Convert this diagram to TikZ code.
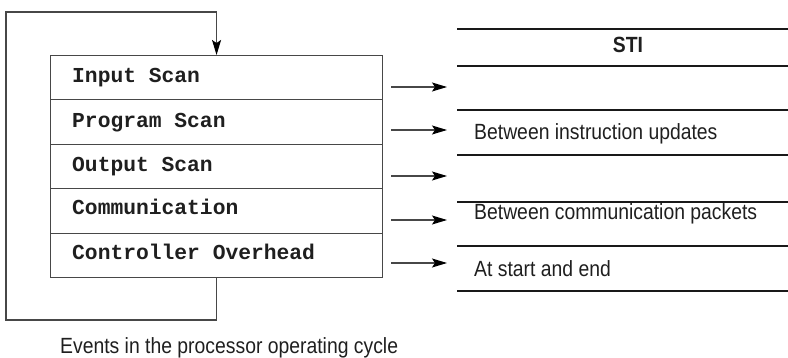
\documentclass[tikz,border=0pt]{standalone}
\usepackage{fontspec}
\usetikzlibrary{arrows.meta}
\newfontfamily\monofam{Liberation Mono}
\newfontfamily\condfam{Liberation Sans}[FakeStretch=0.88]
\begin{document}
\begin{tikzpicture}[x=1pt,y=-1pt,
  thinline/.style={draw=black!72,line width=1.1pt},
  rowbox/.style={thinline,minimum width=332pt,minimum height=44.4pt,inner sep=0pt,anchor=north west},
  monotext/.style={anchor=base west,inner sep=0pt,text=black!88,font=\monofam\bfseries\fontsize{21.3}{24}\selectfont},
  condtext/.style={anchor=base west,inner sep=0pt,text=black!88,font=\condfam\fontsize{22}{24}\selectfont},
  tableline/.style={draw=black!90,line width=2pt},
  tip/.style={-{Stealth[length=15pt,width=9pt,inset=3pt,color=black,fill=black]}},
  arr/.style={thinline,tip}
]
\useasboundingbox (0,0) rectangle (788,358);
% left box rows
\node[rowbox] (r1) at (50,55) {};
\node[rowbox] (r2) at (50,99.4) {};
\node[rowbox] (r3) at (50,143.8) {};
\node[rowbox] (r4) at (50,188.2) {};
\node[rowbox] (r5) at (50,232.6) {};
\node[monotext] (t1) at (72,83) {Input Scan};
\node[monotext] (t2) at (72,128) {Program Scan};
\node[monotext] (t3) at (72,172) {Output Scan};
\node[monotext] (t4) at (72,215) {Communication};
\node[monotext] (t5) at (72,260) {Controller Overhead};
% loop
\coordinate (lb) at (6,320);
\coordinate (lt) at (6,12);
\draw[arr] (r5.south) |- (lb) -- (lt) -| (r1.north);
% arrows
\foreach \i/\y in {1/87,2/130,3/176,4/220,5/263}{
  \coordinate (s\i) at (391,\y);
  \coordinate (e\i) at (447,\y);
  \draw[arr] (s\i) -- (e\i);
}
% table
\foreach \y in {29,66,110.5,155.5,202,246.5,291.5}{
  \draw[tableline] (457,\y) -- (788,\y);
}
\node[condtext,anchor=base,font=\condfam\bfseries\fontsize{22}{24}\selectfont] (sti) at (628,53) {STI};
\node[condtext] (c2) at (474,140) {Between instruction updates};
\node[condtext] (c4) at (474,220) {Between communication packets};
\node[condtext] (c5) at (474,277) {At start and end};
\node[condtext] (cap) at (60,353) {Events in the processor operating cycle};
\end{tikzpicture}
\end{document}
